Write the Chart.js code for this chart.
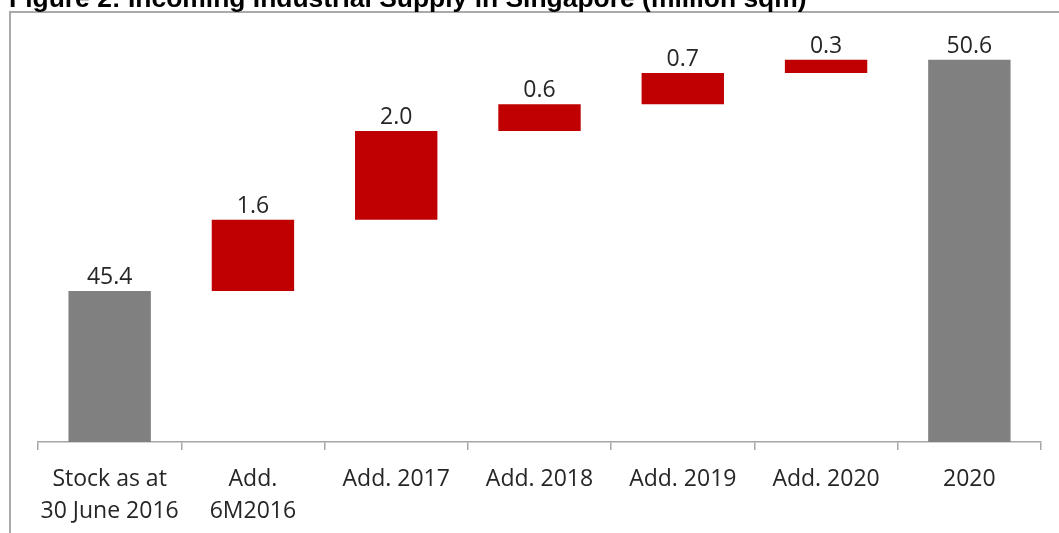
<!DOCTYPE html>
<html>
<head>
<meta charset="utf-8">
<script src="https://cdn.jsdelivr.net/npm/chart.js@4/dist/chart.umd.min.js"></script>
<style>
  html, body { margin: 0; padding: 0; background: #fff; overflow: hidden; }
  #wrap { position: relative; width: 1059px; height: 533px; }
  #frame {
    position: absolute; left: 9px; top: 11px; width: 1100px; height: 600px;
    border-left: 2px solid #aaaaaa; border-top: 2px solid #aaaaaa;
  }
  canvas { position: absolute; left: 0; top: 0; }
</style>
</head>
<body>
<div id="wrap">
  <div id="frame"></div>
  <canvas id="chart" width="1059" height="533"></canvas>
</div>
<script>
const TITLE = 'Figure 2: Incoming Industrial Supply in Singapore (million sqm)'

const categories = [['Stock as at', '30 June 2016'], ['Add.', '6M2016'], 'Add. 2017', 'Add. 2018', 'Add. 2019', 'Add. 2020', '2020']
const values     = [45.4, 1.6, 2.0, 0.6, 0.7, 0.3, 50.6]
const isTotal    = [true, false, false, false, false, false, true]

const Y_MIN = 42
const Y_MAX = 51

const GREY = '#808080'
const RED  = '#c00000'

// waterfall ranges: totals stand on the axis floor, additions stack on the running sum
let running = 0
const ranges = values.map((v, i) => {
  if (isTotal[i]) { running = v; return [Y_MIN, v] }
  const r = [running, running + v]
  running += v
  return r
})

const titlePlugin = {
  id: 'figTitle',
  afterDraw(chart) {
    const ctx = chart.ctx
    ctx.save()
    let size = 22
    ctx.font = `bold ${size}px "Liberation Sans", Arial, sans-serif`
    size = size * 798 / ctx.measureText(TITLE).width
    ctx.font = `bold ${size}px "Liberation Sans", Arial, sans-serif`
    ctx.fillStyle = '#000'
    ctx.textBaseline = 'alphabetic'
    ctx.fillText(TITLE, 9, 7)
    ctx.restore()
  }
}

const valueLabels = {
  id: 'valueLabels',
  afterDatasetsDraw(chart) {
    const ctx  = chart.ctx
    const meta = chart.getDatasetMeta(0)
    ctx.save()
    ctx.font = '23px "Open Sans", sans-serif'
    ctx.fillStyle = '#262626'
    ctx.textAlign = 'center'
    ctx.textBaseline = 'alphabetic'
    meta.data.forEach((bar, i) => {
      const top = Math.min(bar.y, bar.base)
      ctx.fillText(values[i].toFixed(1), bar.x, top - 7)
    })
    ctx.restore()
  }
}

new Chart(document.getElementById('chart'), {
  type: 'bar',
  data: {
    labels: categories,
    datasets: [{
      data: ranges,
      backgroundColor: isTotal.map(t => t ? GREY : RED),
      borderWidth: 0,
      categoryPercentage: 1,
      barPercentage: 0.575
    }]
  },
  options: {
    responsive: false,
    animation: false,
    layout: { padding: { left: 38, right: 18, top: 42, bottom: 0 } },
    plugins: { legend: { display: false }, tooltip: { enabled: false } },
    scales: {
      y: { display: false, min: Y_MIN, max: Y_MAX },
      x: {
        afterFit: s => { s.height = 91 },
        border: { display: true, color: '#a6a6a6', width: 1.5 },
        grid: { offset: true, drawOnChartArea: false, drawTicks: true, tickLength: 8, color: '#a6a6a6', lineWidth: 1.5 },
        ticks: {
          color: '#262626',
          padding: 14,
          maxRotation: 0,
          autoSkip: false,
          font: { family: '"Open Sans", sans-serif', size: 23, lineHeight: 1.37 }
        }
      }
    }
  },
  plugins: [titlePlugin, valueLabels]
})
</script>
</body>
</html>
